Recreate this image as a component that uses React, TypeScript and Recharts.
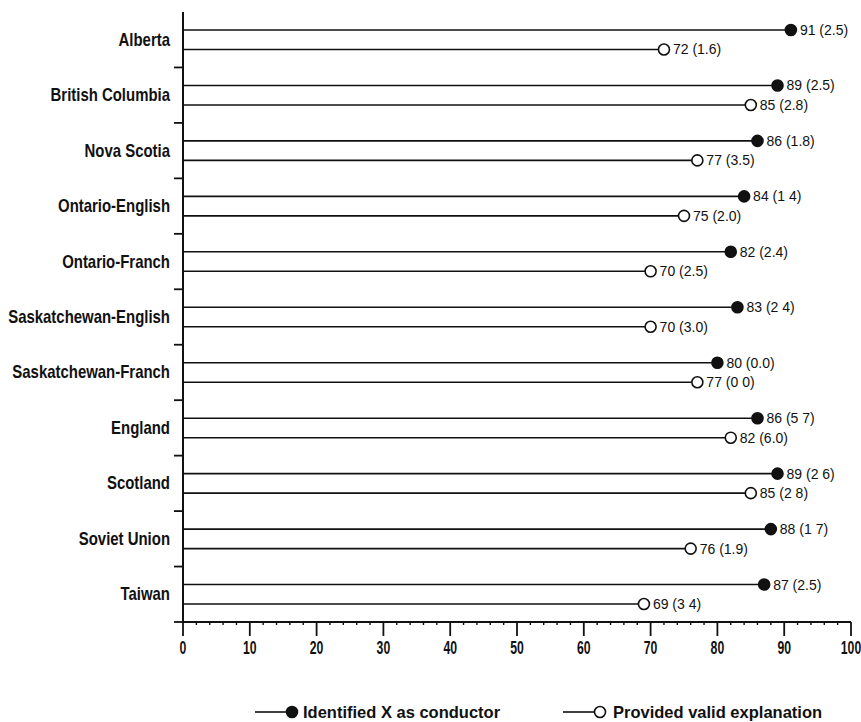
import React from 'react';
import { BarChart, Bar, XAxis, YAxis, Legend, LabelList } from 'recharts';

const categories = [
  'Alberta',
  'British Columbia',
  'Nova Scotia',
  'Ontario-English',
  'Ontario-Franch',
  'Saskatchewan-English',
  'Saskatchewan-Franch',
  'England',
  'Scotland',
  'Soviet Union',
  'Taiwan',
];
const identified = [91, 89, 86, 84, 82, 83, 80, 86, 89, 88, 87];
const identifiedSE = ['2.5', '2.5', '1.8', '1 4', '2.4', '2 4', '0.0', '5 7', '2 6', '1 7', '2.5'];
const explained = [72, 85, 77, 75, 70, 70, 77, 82, 85, 76, 69];
const explainedSE = ['1.6', '2.8', '3.5', '2.0', '2.5', '3.0', '0 0', '6.0', '2 8', '1.9', '3 4'];
const xTicks = [0, 2, 4, 6, 8, 10, 12, 14, 16, 18, 20, 22, 24, 26, 28, 30, 32, 34, 36, 38, 40, 42, 44, 46, 48, 50,
  52, 54, 56, 58, 60, 62, 64, 66, 68, 70, 72, 74, 76, 78, 80, 82, 84, 86, 88, 90, 92, 94, 96, 98, 100];
const majorTicks = [0, 10, 20, 30, 40, 50, 60, 70, 80, 90, 100];
const seriesNames = ['Identified X as conductor', 'Provided valid explanation'];

const data = categories.map((name, i) => ({
  name,
  identified: identified[i],
  identifiedLabel: `${identified[i]} (${identifiedSE[i]})`,
  explained: explained[i],
  explainedLabel: `${explained[i]} (${explainedSE[i]})`,
}));

const W = 861;
const H = 722;
const MARGIN = { top: 12, right: 10, left: 0, bottom: 0 };
const Y_AXIS_W = 183;
const X_AXIS_H = 76;
const LEGEND_H = 24;
const PLOT_H = H - MARGIN.top - MARGIN.bottom - X_AXIS_H - LEGEND_H;
const BAND = PLOT_H / categories.length;

const SANS = "'Liberation Sans', Arial, Helvetica, sans-serif";
const INK = '#111';

const makeLollipop = (filled: boolean) => (props: any) => {
  const { x, y, width, height } = props;
  const cy = y + height / 2;
  const ex = x + width;
  return (
    <g>
      <line x1={x} y1={cy} x2={ex} y2={cy} stroke={INK} strokeWidth={1.6} />
      <circle cx={ex} cy={cy} r={5.5} fill={filled ? INK : '#fff'} stroke={INK} strokeWidth={1.6} />
    </g>
  );
};

const CatTick = (props: any) => {
  const { x, y, payload } = props;
  return (
    <g>
      <text
        transform={`translate(${x - 13},${y}) scale(0.83,1)`}
        x={0}
        y={0}
        textAnchor="end"
        dominantBaseline="central"
        fontFamily={SANS}
        fontWeight="bold"
        fontSize={18}
        fill={INK}
      >
        {payload.value}
      </text>
      <line x1={x - 9} y1={y + BAND / 2} x2={x} y2={y + BAND / 2} stroke={INK} strokeWidth={1.8} />
    </g>
  );
};

const NumTick = (props: any) => {
  const { x, y, payload } = props;
  const major = majorTicks.includes(payload.value);
  return (
    <g>
      <line x1={x} y1={y} x2={x} y2={y + (major ? 14 : 3)} stroke={INK} strokeWidth={major ? 1.8 : 1.4} />
      {major && (
        <text
          transform={`translate(${x},${y + 26}) scale(0.68,1)`}
          x={0}
          y={0}
          textAnchor="middle"
          dominantBaseline="central"
          fontFamily={SANS}
          fontWeight="bold"
          fontSize={18}
          fill={INK}
        >
          {payload.value}
        </text>
      )}
    </g>
  );
};

const LegendContent = () => (
  <svg width={W} height={LEGEND_H} style={{ display: 'block' }}>
    <g>
      <line x1={255} y1={14} x2={287} y2={14} stroke={INK} strokeWidth={1.6} />
      <circle cx={292} cy={14} r={5.5} fill={INK} stroke={INK} strokeWidth={1.6} />
      <text x={303} y={14} dominantBaseline="central" fontFamily={SANS} fontWeight="bold" fontSize={16.5} fill={INK}>
        {seriesNames[0]}
      </text>
    </g>
    <g>
      <line x1={563} y1={14} x2={595} y2={14} stroke={INK} strokeWidth={1.6} />
      <circle cx={600} cy={14} r={5.5} fill="#fff" stroke={INK} strokeWidth={1.6} />
      <text x={613} y={14} dominantBaseline="central" fontFamily={SANS} fontWeight="bold" fontSize={16.5} fill={INK}>
        {seriesNames[1]}
      </text>
    </g>
  </svg>
);

export default function App() {
  return (
    <div style={{ position: 'absolute', left: 0, top: 0, width: W, height: H, background: '#fff' }}>
      <BarChart
        width={W}
        height={H}
        data={data}
        layout="vertical"
        margin={MARGIN}
        barSize={8}
        barGap={11.5}
      >
        <XAxis
          type="number"
          domain={[0, 100]}
          ticks={xTicks}
          interval={0}
          tickSize={0}
          tickMargin={0}
          tickLine={false}
          axisLine={{ stroke: INK, strokeWidth: 2 }}
          height={X_AXIS_H}
          tick={<NumTick />}
        />
        <YAxis
          type="category"
          dataKey="name"
          width={Y_AXIS_W}
          interval={0}
          tickSize={0}
          tickMargin={0}
          tickLine={false}
          axisLine={{ stroke: INK, strokeWidth: 2 }}
          tick={<CatTick />}
        />
        <Legend
          verticalAlign="bottom"
          align="left"
          height={LEGEND_H}
          wrapperStyle={{ left: 0, width: W }}
          content={<LegendContent />}
        />
        <Bar
          dataKey="identified"
          name={seriesNames[0]}
          isAnimationActive={false}
          shape={makeLollipop(true)}
          fill={INK}
        >
          <LabelList
            dataKey="identifiedLabel"
            position="right"
            offset={9}
            fontFamily={SANS}
            fontSize={14}
            fill={INK}
          />
        </Bar>
        <Bar
          dataKey="explained"
          name={seriesNames[1]}
          isAnimationActive={false}
          shape={makeLollipop(false)}
          fill="#fff"
        >
          <LabelList
            dataKey="explainedLabel"
            position="right"
            offset={9}
            fontFamily={SANS}
            fontSize={14}
            fill={INK}
          />
        </Bar>
      </BarChart>
    </div>
  );
}
